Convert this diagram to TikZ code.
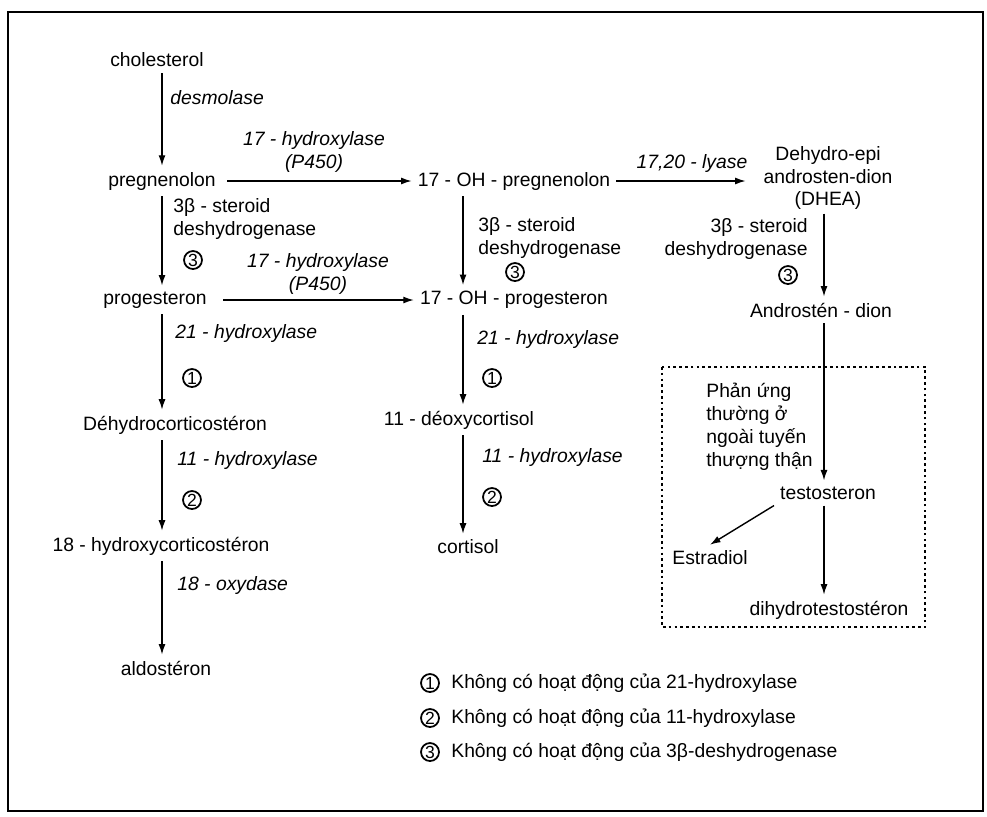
\documentclass[tikz,border=0pt]{standalone}
\usepackage{fontspec}
\setmainfont{Liberation Sans}
\usetikzlibrary{arrows.meta, positioning}

\begin{document}
\begin{tikzpicture}[x=0.02cm, y=-0.02cm, font=\fontsize{11}{13}\selectfont,
    arr/.style={-{Latex[length=6pt,width=4pt]}, line width=0.8pt},
    enz/.style={font=\fontsize{11}{13}\selectfont\itshape, inner sep=0pt},
    steroid/.style={inner sep=0pt, align=left},
    circnum/.style={circle, draw, line width=1pt, inner sep=0pt, minimum size=0.36cm, font=\fontsize{10}{10}\selectfont}]
    \useasboundingbox (0,0) rectangle (987,816);
    \draw[line width=1pt] (8,12) rectangle (983,811);
    \draw[line width=1.6pt] (8,12) -- (983,12);

    % column positions of the vertical arrows
    \coordinate (colL) at (162,0);
    \coordinate (colM) at (463,0);
    \coordinate (colR) at (824,0);

    % left column
    \node (chol) at (157,60) {cholesterol};
    \node (preg) at (162,181) {pregnenolon};
    \node (prog) at (155,300) {progesteron};
    \node (dhcort) at (175,425) {Déhydrocorticostéron};
    \node (hcort) at (161,546) {18 - hydroxycorticostéron};
    \node (aldo) at (166,668) {aldostéron};

    % middle column
    \node (ohpreg) at (514,181) {17 - OH - pregnenolon};
    \node (ohprog) at (514,300) {17 - OH - progesteron};
    \node (deoxy) at (459,420) {11 - déoxycortisol};
    \node (cortisol) at (468,547) {cortisol};

    % right column
    \node[align=center, inner sep=2pt] (dhea) at (828,178) {Dehydro-epi\\androsten-dion\\(DHEA)};
    \node (andro) at (821,310) {Androstén - dion};
    \node (testo) at (828,493) {testosteron};
    \node (estr) at (710,558) {Estradiol};
    \node (dht) at (829,610) {dihydrotestostéron};
    \node[anchor=north west, align=left, inner sep=0pt] (phan) at (706,383)
        {Phản ứng\\thường ở\\ngoài tuyến\\thượng thận};
    \draw[line width=0.8pt, dash pattern=on 1.5pt off 1.8pt] (662,367) rectangle (925,627);

    % arrows
    \draw[arr] (chol.south -| colL) -- (preg.north -| colL);
    \draw[arr] (preg.south -| colL) -- (prog.north -| colL);
    \draw[arr] (prog.south -| colL) -- (dhcort.north -| colL);
    \draw[arr] (dhcort.south -| colL) -- (hcort.north -| colL);
    \draw[arr] (hcort.south -| colL) -- (aldo.north -| colL);
    \draw[arr] (preg.east) ++(3pt,0) coordinate (p1) -- (ohpreg.west);
    \draw[arr] (prog.east) ++(6pt,0) coordinate (p2) -- (ohprog.west);
    \draw[arr, shorten >=8pt] (ohpreg.east) -- (dhea.west |- ohpreg.east);
    \draw[arr] (ohpreg.south -| colM) -- (ohprog.north -| colM);
    \draw[arr] (ohprog.south -| colM) -- (deoxy.north -| colM);
    \draw[arr] (deoxy.south -| colM) -- (cortisol.north -| colM);
    \draw[arr] (dhea.south -| colR) -- (andro.north -| colR);
    \draw[arr] (andro.south -| colR) -- (testo.north -| colR);
    \draw[arr] (testo.south -| colR) -- (dht.north -| colR);
    \draw[arr] (testo.south west) -- (estr.north);

    % enzyme labels
    \node[enz, anchor=west] (desmo) at (170,98) {desmolase};
    \node[enz, align=center] (hyd17a) at (314,152) {17 - hydroxylase\\(P450)};
    \node[enz, align=center] (hyd17b) at (318,274) {17 - hydroxylase\\(P450)};
    \node[enz] (lyase) at (692,163) {17,20 - lyase};
    \node[steroid, anchor=west] (st3a) at (173,219) {3β - steroid\\deshydrogenase};
    \node[steroid, anchor=west] (st3b) at (478,238) {3β - steroid\\deshydrogenase};
    \node[steroid, anchor=east, align=right] (st3c) at (808,239) {3β - steroid\\deshydrogenase};
    \node[circnum] (c3a) at (193,260) {3};
    \node[circnum] (c3b) at (515,272) {3};
    \node[circnum] (c3c) at (788,275) {3};
    \node[enz, anchor=west] (hyd21a) at (175,333) {21 - hydroxylase};
    \node[circnum] (c1a) at (192,378) {1};
    \node[enz, anchor=west] (hyd11a) at (177,460) {11 - hydroxylase};
    \node[circnum] (c2a) at (192,500) {2};
    \node[enz, anchor=west] (oxy18) at (177,585) {18 - oxydase};
    \node[enz, anchor=west] (hyd21b) at (477,339) {21 - hydroxylase};
    \node[circnum] (c1b) at (492,378) {1};
    \node[enz, anchor=west] (hyd11b) at (482,457) {11 - hydroxylase};
    \node[circnum] (c2b) at (492,497) {2};

    % legend
    \node[circnum] (leg1) at (430,683) {1};
    \node[circnum] (leg2) at (430,718) {2};
    \node[circnum] (leg3) at (430,752) {3};
    \node[right=3pt of leg1] (leg1t) {Không có hoạt động của 21-hydroxylase};
    \node[right=3pt of leg2] (leg2t) {Không có hoạt động của 11-hydroxylase};
    \node[right=3pt of leg3] (leg3t) {Không có hoạt động của 3β-deshydrogenase};
\end{tikzpicture}
\end{document}
